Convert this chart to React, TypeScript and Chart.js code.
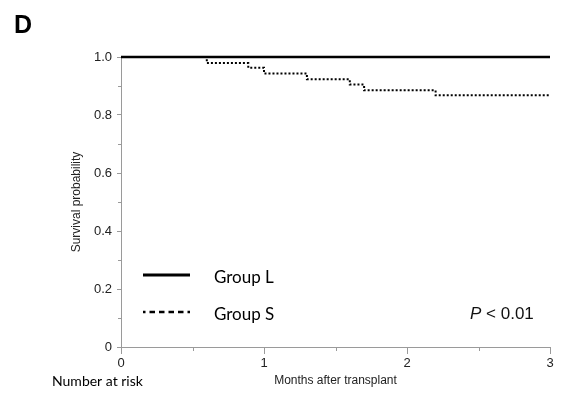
import React, { useEffect, useRef } from "react";
import { Chart, registerables } from "chart.js";

Chart.register(...registerables);

// Kaplan–Meier survival, months after transplant
const groupLMonths = [0, 3];
const groupLSurvival = [1, 1];

const groupSMonths = [0, 0.6, 0.89, 1.0, 1.3, 1.6, 1.7, 2.2, 3.0];
const groupSSurvival = [1, 0.979, 0.963, 0.943, 0.923, 0.905, 0.885, 0.868, 0.868];

const yTickValues = [0, 0.2, 0.4, 0.6, 0.8, 1.0];
const xTickValues = [0, 1, 2, 3];
const yMinorTicks = [0.1, 0.3, 0.5, 0.7, 0.9];
const xMinorTicks = [0.5, 1.5, 2.5];

const seriesNames = ["Group L", "Group S"];
const pValueText = "< 0.01";

const AXIS_GREY = "#9a9a9a";
const SANS = "'Liberation Sans', Arial, Helvetica, sans-serif";
const HUMANIST = "Lato, 'Open Sans', sans-serif";

const annotations = {
  id: "annotations",
  afterDraw(chart: any) {
    const { ctx, chartArea, scales } = chart;
    const xs = scales.x;
    const ys = scales.y;
    ctx.save();

    // minor ticks
    ctx.strokeStyle = AXIS_GREY;
    ctx.lineWidth = 1;
    ctx.beginPath();
    for (const v of yMinorTicks) {
      const y = Math.round(ys.getPixelForValue(v)) + 0.5;
      ctx.moveTo(chartArea.left - 3, y);
      ctx.lineTo(chartArea.left, y);
    }
    for (const v of xMinorTicks) {
      const x = Math.round(xs.getPixelForValue(v)) + 0.5;
      ctx.moveTo(x, chartArea.bottom);
      ctx.lineTo(x, chartArea.bottom + 4);
    }
    ctx.stroke();

    // panel letter
    ctx.fillStyle = "#000";
    ctx.font = `bold 25px ${SANS}`;
    ctx.textAlign = "left";
    ctx.textBaseline = "alphabetic";
    ctx.fillText("D", 14, 33);

    // y-axis title
    ctx.save();
    ctx.translate(80, (chartArea.top + chartArea.bottom) / 2);
    ctx.rotate(-Math.PI / 2);
    ctx.font = `12px ${SANS}`;
    ctx.textAlign = "center";
    ctx.fillStyle = "#222";
    ctx.fillText("Survival probability", 0, 0);
    ctx.restore();

    // x-axis title
    ctx.font = `12px ${SANS}`;
    ctx.textAlign = "center";
    ctx.fillStyle = "#222";
    ctx.fillText("Months after transplant", (chartArea.left + chartArea.right) / 2, 384);

    ctx.font = `14px ${HUMANIST}`;
    ctx.textAlign = "left";
    ctx.fillStyle = "#000";
    ctx.fillText("Number at risk", 52, 386);

    // legend
    const lx0 = 143;
    const lx1 = 190;
    ctx.strokeStyle = "#000";
    ctx.lineWidth = 3;
    ctx.setLineDash([]);
    ctx.beginPath();
    ctx.moveTo(lx0, 275);
    ctx.lineTo(lx1, 275);
    ctx.stroke();
    ctx.lineWidth = 2.5;
    ctx.setLineDash([2.5, 4, 5.5, 4, 5.5, 4, 5.5, 4, 5.5, 4, 5.5]);
    ctx.beginPath();
    ctx.moveTo(lx0, 312);
    ctx.lineTo(lx1, 312);
    ctx.stroke();
    ctx.setLineDash([]);

    ctx.font = `17px ${HUMANIST}`;
    ctx.fillStyle = "#000";
    ctx.fillText(seriesNames[0], 214, 283);
    ctx.fillText(seriesNames[1], 214, 320);

    // p-value
    ctx.font = `italic 17px ${SANS}`;
    ctx.fillStyle = "#111";
    ctx.fillText("P", 470, 319);
    const pw = ctx.measureText("P ").width;
    ctx.font = `17px ${SANS}`;
    ctx.fillText(pValueText, 470 + pw, 319);

    ctx.restore();
  },
};

export default function App() {
  const canvasRef = useRef<HTMLCanvasElement | null>(null);

  useEffect(() => {
    const canvas = canvasRef.current;
    if (!canvas) return;
    const chart = new Chart(canvas, {
      type: "line",
      data: {
        datasets: [
          {
            label: seriesNames[0],
            data: groupLMonths.map((m, i) => ({ x: m, y: groupLSurvival[i] })),
            borderColor: "#000",
            borderWidth: 2.5,
            pointRadius: 0,
            fill: false,
            clip: false as any,
          },
          {
            label: seriesNames[1],
            data: groupSMonths.map((m, i) => ({ x: m, y: groupSSurvival[i] })),
            borderColor: "#000",
            borderWidth: 2,
            borderDash: [2, 2],
            borderCapStyle: "butt",
            stepped: "before",
            pointRadius: 0,
            fill: false,
            clip: false as any,
          },
        ],
      },
      options: {
        responsive: false,
        animation: false,
        layout: { padding: { left: 0, top: 57, right: 16, bottom: 0 } },
        plugins: {
          legend: { display: false },
          tooltip: { enabled: false },
        },
        scales: {
          x: {
            type: "linear",
            min: 0,
            max: 3,
            afterBuildTicks: (scale: any) => {
              scale.ticks = xTickValues.map((v) => ({ value: v }));
            },
            afterFit: (scale: any) => {
              scale.height = 47;
            },
            ticks: {
              color: "#222",
              font: { family: SANS, size: 13 },
              padding: 2,
              maxRotation: 0,
              callback: (v: any) => String(v),
            },
            grid: {
              drawOnChartArea: false,
              drawTicks: true,
              tickLength: 7,
              color: AXIS_GREY,
            },
            border: { color: AXIS_GREY, width: 1 },
          },
          y: {
            type: "linear",
            min: 0,
            max: 1,
            afterBuildTicks: (scale: any) => {
              scale.ticks = yTickValues.map((v) => ({ value: v }));
            },
            afterFit: (scale: any) => {
              scale.width = 121;
            },
            ticks: {
              color: "#222",
              font: { family: SANS, size: 13 },
              padding: 5,
              callback: (v: any) => (Number(v) === 0 ? "0" : Number(v).toFixed(1)),
            },
            grid: {
              drawOnChartArea: false,
              drawTicks: true,
              tickLength: 4,
              color: AXIS_GREY,
            },
            border: { color: AXIS_GREY, width: 1 },
          },
        },
      },
      plugins: [annotations],
    });
    return () => chart.destroy();
  }, []);

  return (
    <div style={{ position: "fixed", left: 0, top: 0, width: 566, height: 394, background: "#fff" }}>
      <canvas ref={canvasRef} width={566} height={394} />
    </div>
  );
}
